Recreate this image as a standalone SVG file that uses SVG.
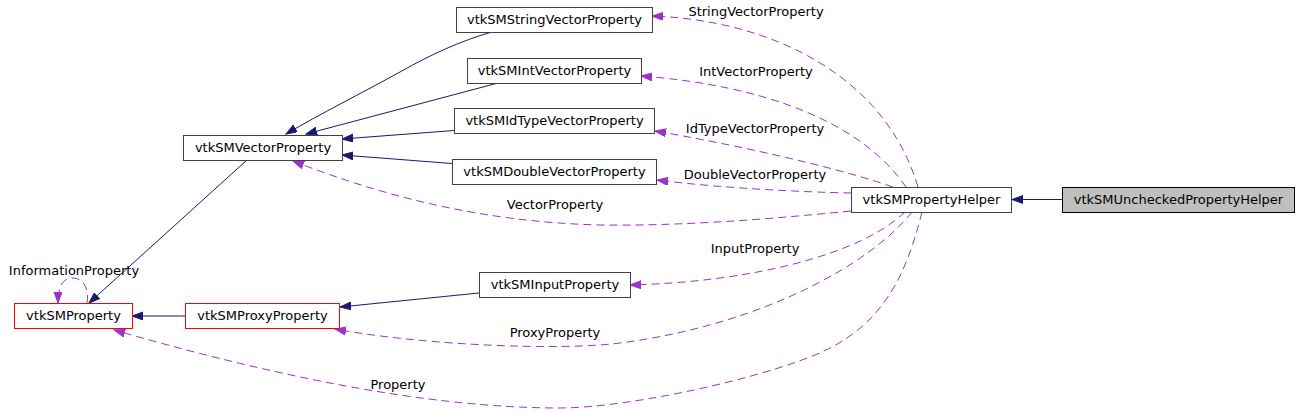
<svg xmlns="http://www.w3.org/2000/svg" width="1300" height="413" viewBox="0 0 1300 413">
<style>
text{font-family:"DejaVu Sans","Liberation Sans",sans-serif;font-size:13px;fill:#000}
.n{text-anchor:middle}
.box{fill:#fff;stroke:#404040;stroke-width:1}
.red{fill:#fff;stroke:#ff0000;stroke-width:1}
.sel{fill:#bfbfbf;stroke:#000;stroke-width:1}
.inh{fill:none;stroke:#191970;stroke-width:1;marker-end:url(#ab)}
.use{fill:none;stroke:#9a32cd;stroke-width:1;stroke-dasharray:8,5;marker-end:url(#ap)}
</style>
<defs>
<marker id="ab" markerUnits="userSpaceOnUse" markerWidth="12" markerHeight="9" refX="11" refY="4" orient="auto"><path d="M0,0 L11,4 L0,8 Z" fill="#191970" stroke="#191970" stroke-width="1"/></marker>
<marker id="ap" markerUnits="userSpaceOnUse" markerWidth="12" markerHeight="9" refX="11" refY="4" orient="auto"><path d="M0,0 L11,4 L0,8 Z" fill="#9a32cd" stroke="#9a32cd" stroke-width="1"/></marker>
</defs>
<rect width="1300" height="413" fill="#fff"/>
<g id="connectors">
<path class="inh" d="M1062,199.5 L1012,199.5"/>
<path class="inh" d="M492,32 C460,41 430,55 400,72 C360,94 320,114 286,134"/>
<path class="inh" d="M498,83 L306,134"/>
<path class="inh" d="M454,130.5 L342,139"/>
<path class="inh" d="M452,163.5 L342,155"/>
<path class="inh" d="M247,160 L89,303"/>
<path class="inh" d="M185,316 L132,316"/>
<path class="inh" d="M479,293 L340,307"/>
<path class="use" d="M918,187 C885,75 770,20 652,16"/>
<text x="756" y="16" class="n">StringVectorProperty</text>
<path class="use" d="M906,187 C860,120 760,85 641,76"/>
<text x="756" y="76" class="n">IntVectorProperty</text>
<path class="use" d="M893,187 C830,165 720,142 655,131"/>
<text x="755" y="133" class="n">IdTypeVectorProperty</text>
<path class="use" d="M851,193 C800,192 720,188 657,180"/>
<text x="755" y="179" class="n">DoubleVectorProperty</text>
<path class="use" d="M851,211 C760,220 680,226 600,225 C480,222 380,195 293,161"/>
<text x="555" y="209" class="n">VectorProperty</text>
<path class="use" d="M905,212 C860,255 750,282 630,285"/>
<text x="755" y="253" class="n">InputProperty</text>
<path class="use" d="M912,212 C870,265 760,325 620,343 C560,351 420,345 335,329"/>
<text x="555" y="337" class="n">ProxyProperty</text>
<path class="use" d="M922,212 C905,280 880,330 810,357 C740,384 620,408 560,408 C420,408 260,372 114,330"/>
<text x="398" y="389" class="n">Property</text>
<path class="use" d="M87,303 C90,285 80,278 73,278 C65,278 58,283 58,303"/>
<text x="74" y="275" class="n">InformationProperty</text>
</g>
<g id="vtkSMUncheckedPropertyHelper"><rect class="sel" x="1062.5" y="187.5" width="232" height="25"/><text x="1178.5" y="204" class="n">vtkSMUncheckedPropertyHelper</text></g>
<g id="vtkSMPropertyHelper"><rect class="box" x="851.5" y="187.5" width="160" height="25"/><text x="931.5" y="204" class="n">vtkSMPropertyHelper</text></g>
<g id="vtkSMStringVectorProperty"><rect class="box" x="456.5" y="7.5" width="196" height="25"/><text x="554.5" y="24" class="n">vtkSMStringVectorProperty</text></g>
<g id="vtkSMIntVectorProperty"><rect class="box" x="467.5" y="58.5" width="174" height="25"/><text x="554.5" y="75" class="n">vtkSMIntVectorProperty</text></g>
<g id="vtkSMIdTypeVectorProperty"><rect class="box" x="454.5" y="108.5" width="200" height="25"/><text x="554.5" y="125" class="n">vtkSMIdTypeVectorProperty</text></g>
<g id="vtkSMDoubleVectorProperty"><rect class="box" x="452.5" y="159.5" width="204" height="25"/><text x="554.5" y="176" class="n">vtkSMDoubleVectorProperty</text></g>
<g id="vtkSMVectorProperty"><rect class="box" x="183.5" y="135.5" width="159" height="25"/><text x="263" y="152" class="n">vtkSMVectorProperty</text></g>
<g id="vtkSMInputProperty"><rect class="box" x="479.5" y="272.5" width="151" height="25"/><text x="555" y="289" class="n">vtkSMInputProperty</text></g>
<g id="vtkSMProxyProperty"><rect class="red" x="185.5" y="303.5" width="154" height="25"/><text x="262.5" y="320" class="n">vtkSMProxyProperty</text></g>
<g id="vtkSMProperty"><rect class="red" x="14.5" y="303.5" width="118" height="25"/><text x="73.5" y="320" class="n">vtkSMProperty</text></g>
</svg>
